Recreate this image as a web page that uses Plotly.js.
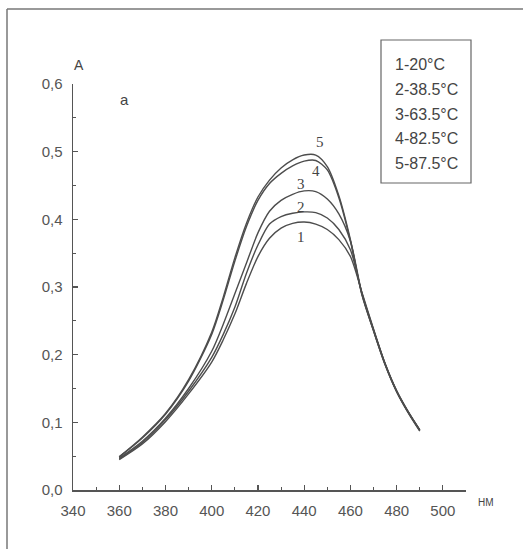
<!DOCTYPE html>
<html>
<head>
<meta charset="utf-8">
<script src="https://cdn.plot.ly/plotly-3.0.1.min.js"></script>
<style>
html,body{margin:0;padding:0;background:#fff;}
#chart{width:523px;height:549px;}
</style>
</head>
<body>
<div id="chart"></div>
<script>
// Wavelength, nm
var wavelength = [360,370,380,390,400,405,410,415,420,425,430,435,440,445,450,455,460,465,470,475,480,485,490];
// Absorbance curves
var curve1 = [0.045,0.068,0.101,0.142,0.189,0.222,0.260,0.305,0.345,0.372,0.387,0.394,0.396,0.393,0.385,0.370,0.345,0.292,0.238,0.187,0.147,0.116,0.089];
var curve2 = [0.046,0.070,0.104,0.146,0.196,0.230,0.270,0.320,0.362,0.393,0.404,0.409,0.411,0.410,0.402,0.385,0.355,0.291,0.237,0.187,0.146,0.115,0.089];
var curve3 = [0.047,0.072,0.106,0.150,0.205,0.245,0.290,0.335,0.380,0.412,0.428,0.437,0.442,0.441,0.430,0.408,0.368,0.290,0.236,0.186,0.146,0.115,0.088];
var curve4 = [0.049,0.077,0.112,0.161,0.230,0.281,0.338,0.389,0.428,0.453,0.468,0.479,0.486,0.487,0.473,0.432,0.368,0.289,0.236,0.186,0.146,0.115,0.088];
var curve5 = [0.049,0.078,0.113,0.163,0.233,0.285,0.343,0.394,0.433,0.458,0.476,0.488,0.495,0.495,0.478,0.435,0.370,0.288,0.235,0.185,0.145,0.114,0.087];
var curveNames = ['1','2','3','4','5'];
var legendLabels = ['1-20°C','2-38.5°C','3-63.5°C','4-82.5°C','5-87.5°C'];
var xTicks = [340,360,380,400,420,440,460,480,500];
var yTicks = [0,0.1,0.2,0.3,0.4,0.5,0.6];

var curves = [curve1,curve2,curve3,curve4,curve5];
var lineColor = '#4d4d4d';
var traces = curves.map(function(c,i){
  return {x: wavelength, y: c, mode:'lines', name: curveNames[i],
    line:{color:lineColor, width:1.4, shape:'spline', smoothing:0.8},
    hoverinfo:'skip', showlegend:false};
});

// curve number labels: [curve index, wavelength index, xshift, yshift]
var labelPlace = [[0,12,-3,-15],[1,12,-3,5],[2,12,-3,7],[3,13,0,-11],[4,13,4,13]];
var annotations = labelPlace.map(function(p){
  return {x: wavelength[p[1]], y: curves[p[0]][p[1]], xref:'x', yref:'y',
    text: curveNames[p[0]], showarrow:false, xshift:p[2], yshift:p[3],
    font:{family:'Liberation Serif, DejaVu Serif, serif', size:15, color:'#444'}};
});

var L=73, R=57, T=84, B=59, W=523, H=549;
var pw = W-L-R, ph = H-T-B;
function px(x){return (x-L)/pw;}
function py(y){return (H-B-y)/ph;}

legendLabels.forEach(function(t,i){
  annotations.push({x:px(393), y:py(65+i*24.5), xref:'paper', yref:'paper',
    xanchor:'left', yanchor:'middle', text:t, showarrow:false,
    font:{family:'Liberation Sans, Arial, sans-serif', size:16, color:'#444'}});
});
annotations.push({x:px(79), y:py(65), xref:'paper', yref:'paper', text:'A', showarrow:false,
  xanchor:'center', yanchor:'middle', font:{family:'Liberation Sans, Arial, sans-serif', size:14, color:'#444'}});
annotations.push({x:px(124), y:py(100), xref:'paper', yref:'paper', text:'a', showarrow:false,
  xanchor:'center', yanchor:'middle', font:{family:'Liberation Sans, Arial, sans-serif', size:15, color:'#444'}});
annotations.push({x:px(486), y:py(502), xref:'paper', yref:'paper', text:'НМ', showarrow:false,
  xanchor:'center', yanchor:'middle', font:{family:'Liberation Sans, Arial, sans-serif', size:10, color:'#444'}});

var shapes = [
  {type:'rect', xref:'paper', yref:'paper', x0:px(381), x1:px(471), y0:py(183), y1:py(40),
   line:{color:'#666', width:1.2}},
  {type:'line', xref:'paper', yref:'paper', x0:px(7), x1:px(523), y0:py(9), y1:py(9),
   line:{color:'#777', width:1.5}},
  {type:'line', xref:'paper', yref:'paper', x0:px(7), x1:px(7), y0:py(9), y1:py(549),
   line:{color:'#777', width:1.5}}
];

var axisFont = {family:'Liberation Sans, Arial, sans-serif', size:15, color:'#555'};
var layout = {
  width:W, height:H, autosize:false,
  margin:{l:L, r:R, t:T, b:B, pad:0},
  paper_bgcolor:'#ffffff', plot_bgcolor:'rgba(0,0,0,0)',
  separators:', ',
  showlegend:false,
  xaxis:{range:[340,510], tickmode:'array', tickvals:xTicks, ticks:'inside', ticklen:5,
    tickwidth:1.2, tickcolor:'#555', showline:true, linecolor:'#555', linewidth:1.5,
    showgrid:false, zeroline:false, tickfont:axisFont, ticklabelstandoff:6,
    minor:{dtick:10, tick0:340, ticks:'inside', ticklen:3, tickwidth:1, tickcolor:'#555', showgrid:false}},
  yaxis:{range:[0,0.6], tickmode:'array', tickvals:yTicks, tickformat:'.1f', ticks:'inside', ticklen:5,
    tickwidth:1.2, tickcolor:'#555', showline:true, linecolor:'#555', linewidth:1.5,
    showgrid:false, zeroline:false, tickfont:axisFont, ticklabelstandoff:6,
    minor:{dtick:0.05, tick0:0, ticks:'inside', ticklen:3, tickwidth:1, tickcolor:'#555', showgrid:false}},
  annotations:annotations,
  shapes:shapes
};
Plotly.newPlot('chart', traces, layout, {displayModeBar:false, staticPlot:true});
</script>
</body>
</html>
